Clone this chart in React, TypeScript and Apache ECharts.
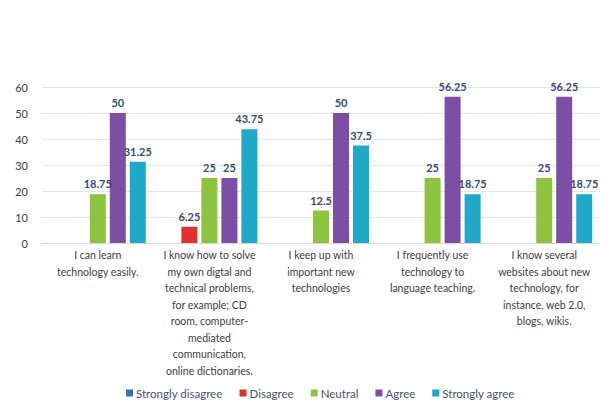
import React, { useEffect, useRef } from "react";
import * as echarts from "echarts";

const categories = [
  "I can learn\ntechnology easily.",
  "I know how to solve\nmy own digtal and\ntechnical problems,\nfor example; CD\nroom, computer-\nmediated\ncommunication,\nonline dictionaries.",
  "I keep up with\nimportant new\ntechnologies",
  "I frequently use\ntechnology to\nlanguage teaching.",
  "I know several\nwebsites about new\ntechnology, for\ninstance, web 2.0,\nblogs, wikis.",
];
const seriesNames = ["Strongly disagree", "Disagree", "Neutral", "Agree", "Strongly agree"];
const stronglyDisagree = [0, 0, 0, 0, 0];
const disagree = [0, 6.25, 0, 0, 0];
const neutral = [18.75, 25, 12.5, 25, 25];
const agree = [50, 25, 50, 56.25, 56.25];
const stronglyAgree = [31.25, 43.75, 37.5, 18.75, 18.75];
const colors = ["#3f6fb6", "#e0312f", "#8dc43f", "#7c4ea6", "#1ea9c9"];

export default function App() {
  const ref = useRef<HTMLDivElement>(null);
  useEffect(() => {
    document.body.style.margin = "0";
    const chart = echarts.init(ref.current!, null, { renderer: "svg" });
    const data = [stronglyDisagree, disagree, neutral, agree, stronglyAgree];
    const font = "Lato, 'Open Sans', sans-serif";
    chart.setOption({
      animation: false,
      backgroundColor: "#ffffff",
      textStyle: { fontFamily: font },
      grid: { left: 42, right: 13, top: 87, bottom: 167 },
      legend: {
        bottom: 6,
        left: 121,
        itemWidth: 7,
        itemHeight: 7,
        itemGap: 17,
        icon: "rect",
        textStyle: { fontSize: 11.5, color: "#44546a", fontFamily: font, padding: [0, 0, 0, -2] },
        data: seriesNames,
      },
      xAxis: {
        type: "category",
        data: categories,
        axisLine: { lineStyle: { color: "#d9d9d9" } },
        axisTick: { show: false },
        axisLabel: {
          color: "#404040",
          fontSize: 10.5,
          lineHeight: 16.5,
          interval: 0,
          margin: 4,
          fontFamily: font,
        },
      },
      yAxis: {
        type: "value",
        min: 0,
        max: 60,
        interval: 10,
        axisLine: { show: false },
        axisTick: { show: false },
        splitLine: { lineStyle: { color: "#e6e6e6" } },
        axisLabel: { color: "#404040", fontSize: 11, margin: 14, fontFamily: font },
      },
      series: seriesNames.map((name, i) => ({
        name,
        type: "bar",
        data: data[i],
        barWidth: 16,
        barGap: "25%",
        itemStyle: { color: colors[i] },
        label: {
          show: true,
          position: "top",
          distance: 5,
          color: "#3c4a6e",
          fontSize: 11,
          fontWeight: "bold",
          fontFamily: font,
          formatter: (p: any) => (p.value === 0 ? "" : String(p.value)),
        },
      })),
    });
    return () => chart.dispose();
  }, []);
  return <div ref={ref} style={{ width: 613, height: 410 }} />;
}
